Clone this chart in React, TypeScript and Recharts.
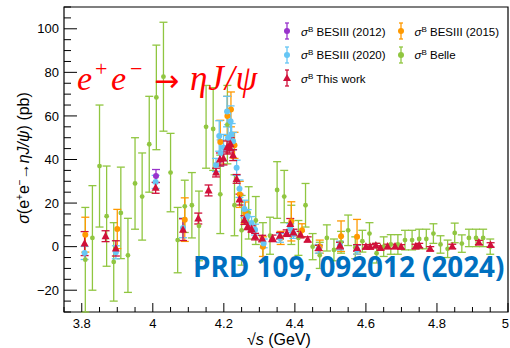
import { ScatterChart, Scatter, XAxis, YAxis, ErrorBar, ReferenceArea, Legend } from "recharts";

// Belle (ISR)
const belleE = [3.81, 3.83, 3.85, 3.87, 3.89, 3.91, 3.93, 3.95, 3.97, 3.99, 4.01, 4.03, 4.05, 4.07, 4.09, 4.11, 4.13, 4.15, 4.17, 4.19,
  4.21, 4.23, 4.25, 4.27, 4.29, 4.31, 4.33, 4.35, 4.37, 4.39, 4.41, 4.43, 4.45, 4.47, 4.49, 4.51, 4.53, 4.55, 4.57, 4.59,
  4.61, 4.63, 4.65, 4.67, 4.69, 4.71, 4.73, 4.75, 4.77, 4.79, 4.81, 4.83, 4.85, 4.87, 4.89, 4.91, 4.93, 4.95];
const belleSigma = [-6, 4, 37, 14, -7, 15.5, -4, 29, 23, 47, 68.5, 78, 34, 3, 18.5, 19, 9.5, 55, 54, 24,
  56, 19, 7.5, 15.5, 12, 2, 5, 26, 23, 10, 4, 19, 0, -4, 4, -1.5, 2, 7.5, -0.5, 2.5,
  6, -3, 0, 1, 1, 3, 3, 3.5, 3.5, 6, 1, -1, 6.3, 1.4, 4, 4, 4, 0];
const belleErr = [24, 24, 28, 23, 18, 21, 17, 21, 20, 22, 24, 25, 18, 15, 12, 15, 16, 19, 19, 18,
  18, 14, 16, 12, 11, 9, 8.5, 13, 12, 9, 8, 10, 6, 6, 6, 5, 5, 7, 5, 5,
  5, 4.5, 4.5, 4.5, 4.5, 4.5, 4.5, 4.5, 4.5, 4.5, 4, 4, 4.5, 4, 4, 4, 4, 3.5];

// BESIII (2012)
const bes12E = [4.009];
const bes12Sigma = [32.4];
const bes12Err = [3];

// BESIII (2015)
const bes15E = [3.81, 3.9, 4.09, 4.19, 4.21, 4.22, 4.23, 4.245, 4.26, 4.31, 4.36, 4.39, 4.42, 4.47, 4.53, 4.575];
const bes15Sigma = [5.5, 8.1, 12.4, 48, 60, 63, 46.5, 24, 15.5, 0, 4, 11.6, 7.5, 0, 4.8, 4.5];
const bes15Err = [8, 9, 10, 10, 9, 8, 6, 6, 5, 4.5, 3, 9, 3, 3, 7, 8];

// BESIII (2020)
const bes20E = [3.808, 3.896, 4.008, 4.085, 4.178, 4.187, 4.191, 4.199, 4.209, 4.212, 4.219, 4.222, 4.226, 4.236, 4.244,
  4.258, 4.267, 4.278, 4.288, 4.312, 4.358, 4.387, 4.396, 4.467, 4.527, 4.575];
const bes20Sigma = [-2.9, -2.6, 29.7, 8.6, 37.5, 50.8, 43, 45.5, 62, 50, 57.6, 51.5, 48.4, 36.2, 26.6,
  17.3, 14, 10.8, 7.8, 1.5, 4, 8.6, 5.8, -1, 0.5, -1.4];
const bes20Err = [3, 3, 3, 4.5, 3, 7, 6, 6, 7, 6, 7, 5, 4, 3.5, 4,
  4, 3, 3, 2.5, 2, 2, 2, 2, 2, 2, 2];

// This work
const thisE = [3.808, 3.867, 3.896, 4.008, 4.085, 4.128, 4.157, 4.178, 4.189, 4.199, 4.209, 4.215, 4.219, 4.226, 4.236,
  4.244, 4.258, 4.267, 4.278, 4.288, 4.308, 4.337, 4.358, 4.377, 4.387, 4.396, 4.416, 4.436, 4.467, 4.527,
  4.575, 4.6, 4.612, 4.628, 4.641, 4.661, 4.682, 4.699, 4.74, 4.75, 4.781, 4.843, 4.918, 4.951];
const thisSigma = [1.4, 4.8, -0.8, 27, 7.8, 12.9, 25.8, 34, 40, 40.5, 45.5, 46, 47, 42, 31.1,
  21.6, 12.2, 9.3, 8.1, 4.6, 3.7, 3.8, 5, 6.2, 10.4, 6.5, 5.5, 3.3, -0.6, 0.5,
  -0.6, -0.1, -0.1, 0.5, -0.6, 0.1, 0.1, -0.1, 0.1, 0.5, -1, 0.1, 1.9, 0.8];
const thisErr = [5.5, 2.5, 3.5, 2.5, 5, 2.5, 2.5, 2, 3, 3, 3, 3, 3, 2.5, 2,
  2.5, 2, 1.5, 1.5, 1.5, 1.5, 1.5, 1.5, 1.5, 2.5, 1.5, 1.5, 1.2, 1.2, 1.5,
  1.5, 1, 1, 1, 1, 1, 1, 1, 1, 1, 1, 1, 1, 1];

const xTicks = [3.75, 3.8, 3.85, 3.9, 3.95, 4, 4.05, 4.1, 4.15, 4.2, 4.25, 4.3, 4.35, 4.4, 4.45, 4.5,
  4.55, 4.6, 4.65, 4.7, 4.75, 4.8, 4.85, 4.9, 4.95, 5];
const xMajor = [3.8, 4, 4.2, 4.4, 4.6, 4.8, 5];
const xMajorLabels = ["3.8", "4", "4.2", "4.4", "4.6", "4.8", "5"];
const yTicks = [-30, -25, -20, -15, -10, -5, 0, 5, 10, 15, 20, 25, 30, 35, 40, 45, 50, 55, 60, 65, 70,
  75, 80, 85, 90, 95, 100, 105, 110];
const yMajor = [-20, 0, 20, 40, 60, 80, 100];
const yMajorLabels = ["\u221220", "0", "20", "40", "60", "80", "100"];

const C12 = "#9933cc";
const C15 = "#ff9900";
const C20 = "#66c6f5";
const CBELLE = "#90c640";
const CTHIS = "#d0103a";

const legendItems = [
  { name: "BESIII (2012)", color: C12, tri: false },
  { name: "BESIII (2015)", color: C15, tri: false },
  { name: "BESIII (2020)", color: C20, tri: false },
  { name: "Belle", color: CBELLE, tri: false },
  { name: "This work", color: CTHIS, tri: true },
];

const toPoints = (e: number[], s: number[], err: number[]) =>
  e.map((x, i) => ({ x, y: s[i], err: err[i] }));

const FONT = "'Liberation Sans', Arial, sans-serif";
const SERIF = "'Liberation Serif', serif";

const dot = (r: number, color: string) => (p: any) => <circle cx={p.cx} cy={p.cy} r={r} fill={color} />;
const tri = (color: string) => (p: any) => (
  <polygon points={`${p.cx},${p.cy - 4.5} ${p.cx - 4},${p.cy + 3} ${p.cx + 4},${p.cy + 3}`} fill={color} />
);

function XTick({ x, y, payload }: any) {
  const i = xMajor.findIndex((v) => Math.abs(v - payload.value) < 1e-6);
  const last = i === xMajor.length - 1;
  return (
    <g>
      <line x1={x} x2={x} y1={y} y2={y - (i >= 0 ? 9 : 5)} stroke="#000" strokeWidth={1} />
      {i >= 0 && (
        <text x={last ? 509 : x} y={y + 16} textAnchor={last ? "end" : "middle"} fontSize={13} fontFamily={FONT} fill="#000">
          {xMajorLabels[i]}
        </text>
      )}
    </g>
  );
}

function YTick({ x, y, payload }: any) {
  const i = yMajor.findIndex((v) => Math.abs(v - payload.value) < 1e-6);
  return (
    <g>
      <line x1={x} x2={x + (i >= 0 ? 13 : 7)} y1={y} y2={y} stroke="#000" strokeWidth={1} />
      {i >= 0 && (
        <text x={x - 5} y={y} dy="0.36em" textAnchor="end" fontSize={13} fontFamily={FONT} fill="#000">
          {yMajorLabels[i]}
        </text>
      )}
    </g>
  );
}

function LegendBox() {
  return (
    <div style={{ position: "relative", width: 240, height: 90, fontFamily: FONT, fontSize: 11.5, color: "#000" }}>
      {legendItems.map((it, i) => {
        const col = i === 4 ? 0 : i % 2;
        const row = Math.floor(i / 2);
        return (
          <div key={it.name} style={{ position: "absolute", left: col * 113.5, top: row * 23.5, display: "flex", alignItems: "center", whiteSpace: "nowrap" }}>
            <svg width={14} height={20}>
              <line x1={7} x2={7} y1={2} y2={18} stroke={it.color} strokeWidth={1.3} />
              <line x1={5} x2={9} y1={2} y2={2} stroke={it.color} strokeWidth={1.3} />
              <line x1={5} x2={9} y1={18} y2={18} stroke={it.color} strokeWidth={1.3} />
              {it.tri ? (
                <polygon points="7,6 3,13 11,13" fill={it.color} />
              ) : (
                <circle cx={7} cy={10} r={3} fill={it.color} />
              )}
            </svg>
            <span style={{ marginLeft: 7 }}>
              <i>σ</i>
              <sup style={{ fontSize: 8, verticalAlign: "4px" }}>B</sup> {it.name}
            </span>
          </div>
        );
      })}
    </div>
  );
}

export default function App() {
  const series = [
    { key: "belle", data: toPoints(belleE, belleSigma, belleErr), color: CBELLE, shape: dot(2.4, CBELLE) },
    { key: "b15", data: toPoints(bes15E, bes15Sigma, bes15Err), color: C15, shape: dot(3, C15) },
    { key: "b20", data: toPoints(bes20E, bes20Sigma, bes20Err), color: C20, shape: dot(3, C20) },
    { key: "b12", data: toPoints(bes12E, bes12Sigma, bes12Err), color: C12, shape: dot(3, C12) },
    { key: "this", data: toPoints(thisE, thisSigma, thisErr), color: CTHIS, shape: tri(CTHIS) },
  ];
  return (
    <div style={{ position: "absolute", left: 0, top: 0, width: 510, height: 348, background: "#fff" }}>
      <ScatterChart width={510} height={348} margin={{ top: 7, right: 2, bottom: 0, left: 0 }}>
        <XAxis
          type="number"
          dataKey="x"
          domain={[3.75, 5]}
          ticks={xTicks}
          interval={0}
          allowDataOverflow
          axisLine={false}
          tickLine={false}
          tickSize={0}
          tickMargin={0}
          height={36}
          tick={<XTick />}
        />
        <YAxis
          type="number"
          dataKey="y"
          domain={[-30, 110]}
          ticks={yTicks}
          interval={0}
          allowDataOverflow
          axisLine={false}
          tickLine={false}
          tickSize={0}
          tickMargin={0}
          width={64}
          tick={<YTick />}
        />
        {series.map((s) => (
          <Scatter key={s.key} data={s.data} fill={s.color} shape={s.shape} isAnimationActive={false}>
            <ErrorBar dataKey="err" direction="y" width={4} stroke={s.color} strokeWidth={1.3} isAnimationActive={false} />
          </Scatter>
        ))}
        <ReferenceArea x1={3.75} x2={5} y1={-30} y2={110} fill="none" stroke="#000" strokeWidth={1.2} />
        <Legend
          layout="horizontal"
          verticalAlign="middle"
          wrapperStyle={{ top: 21, left: 280, width: 240 }}
          content={() => <LegendBox />}
        />
      </ScatterChart>
      <svg width={510} height={348} style={{ position: "absolute", left: 0, top: 0, pointerEvents: "none" }}>
        <text transform="translate(29,158) rotate(-90)" textAnchor="middle" fontSize={16} fontFamily={FONT} fill="#000">
          <tspan fontStyle="italic">σ</tspan>(e
          <tspan dy={-6} fontSize={10}>+</tspan>
          <tspan dy={6}>e</tspan>
          <tspan dy={-6} fontSize={10}>−</tspan>
          <tspan dy={6}>→</tspan>
          <tspan fontStyle="italic">ηJ/ψ</tspan>) (pb)
        </text>
        <text x={247} y={345} fontSize={16} fontFamily={FONT} fill="#000">
          √<tspan fontStyle="italic">s</tspan> (GeV)
        </text>
        <g fill="#ff0000">
          <text x={77} y={90} fontSize={34} fontFamily={SERIF} fontStyle="italic">e</text>
          <text x={95} y={76} fontSize={22} fontFamily={SERIF}>+</text>
          <text x={111} y={90} fontSize={34} fontFamily={SERIF} fontStyle="italic">e</text>
          <text x={130} y={76} fontSize={22} fontFamily={SERIF}>−</text>
          <text x={154} y={91} fontSize={30} fontFamily="'DejaVu Sans', sans-serif">→</text>
          <text x={190} y={90} fontSize={35} fontFamily={SERIF} fontStyle="italic" letterSpacing={1}>ηJ/ψ</text>
        </g>
        <text x={193} y={277} fontSize={27.8} fontWeight="bold" fontFamily="'Open Sans', sans-serif" fill="#0070c0">
          PRD 109, 092012 (2024)
        </text>
      </svg>
    </div>
  );
}
